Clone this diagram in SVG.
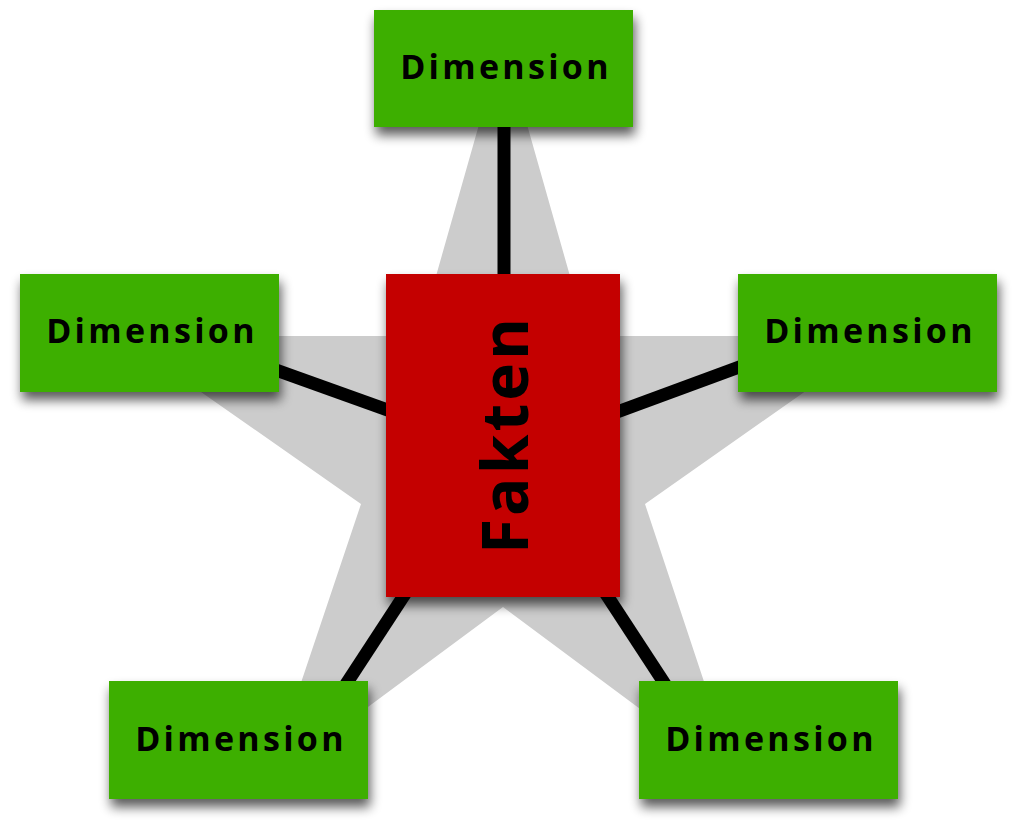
<svg xmlns="http://www.w3.org/2000/svg" width="1017" height="829" viewBox="0 0 1017 829">
<defs>
<filter id="sh" x="-20%" y="-20%" width="140%" height="160%">
<feGaussianBlur in="SourceAlpha" stdDeviation="6"/>
<feOffset dx="2" dy="8" result="b"/>
<feComponentTransfer><feFuncA type="linear" slope="0.65"/></feComponentTransfer>
<feMerge><feMergeNode/><feMergeNode in="SourceGraphic"/></feMerge>
</filter>
<style>
.dim{fill:#3eaf00;filter:url(#sh)}
.fact{fill:#c40000;filter:url(#sh)}
.lbl{font-family:"Open Sans","Liberation Sans",sans-serif;font-weight:700;font-size:34px;letter-spacing:3.3px;fill:#000;text-anchor:middle}
.flbl{font-family:"Open Sans","Liberation Sans",sans-serif;font-weight:700;font-size:64px;letter-spacing:3px;fill:#000;text-anchor:middle}
.con{stroke:#000;stroke-width:13;fill:none}
</style>
</defs>
<rect width="1017" height="829" fill="#fff"/>
<polygon id="star" fill="#cccccc" points="503,40 587,336 884,336 645,504 737,781 503,607 268,781 361,504 121,336 419,336"/>
<g id="connectors">
<line class="con" x1="504" y1="100" x2="504" y2="300"/>
<line class="con" x1="250" y1="360.6" x2="420" y2="421.7"/>
<line class="con" x1="768" y1="356.4" x2="590" y2="422"/>
<line class="con" x1="420" y1="571" x2="335" y2="701"/>
<line class="con" x1="591" y1="571" x2="676" y2="701"/>
</g>
<g id="fakten">
<rect class="fact" x="386" y="274" width="234" height="323"/>
<text class="flbl" transform="translate(528,436) rotate(-90)" x="1.5" y="0">Fakten</text>
</g>
<g id="dim-top">
<rect class="dim" x="374" y="10" width="259" height="117"/>
<text class="lbl" x="506" y="79">Dimension</text>
</g>
<g id="dim-left">
<rect class="dim" x="20" y="274" width="259" height="118"/>
<text class="lbl" x="152" y="343">Dimension</text>
</g>
<g id="dim-right">
<rect class="dim" x="738" y="274" width="259" height="118"/>
<text class="lbl" x="870" y="343">Dimension</text>
</g>
<g id="dim-bottom-left">
<rect class="dim" x="109" y="681" width="259" height="118"/>
<text class="lbl" x="241" y="751">Dimension</text>
</g>
<g id="dim-bottom-right">
<rect class="dim" x="639" y="681" width="259" height="118"/>
<text class="lbl" x="771" y="751">Dimension</text>
</g>
</svg>
